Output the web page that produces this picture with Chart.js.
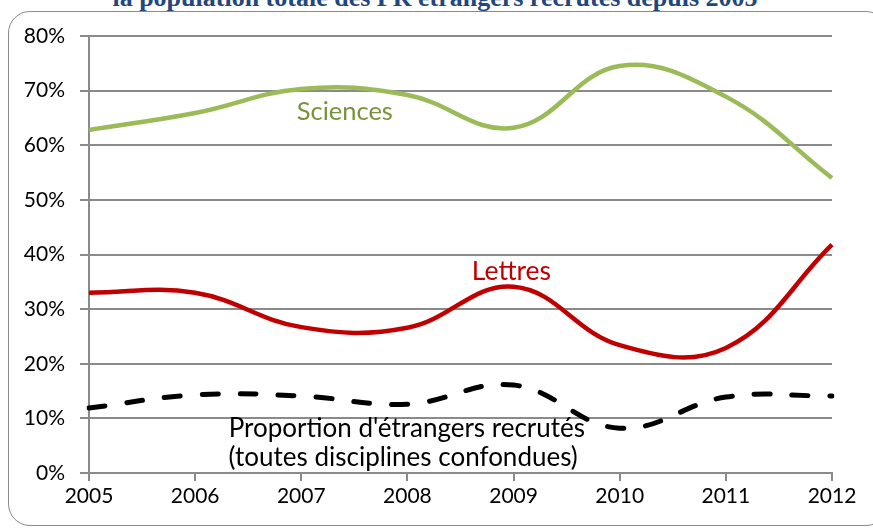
<!DOCTYPE html>
<html>
<head>
<meta charset="utf-8">
<script src="https://cdn.jsdelivr.net/npm/chart.js@4/dist/chart.umd.min.js"></script>
<style>
  html, body { margin: 0; padding: 0; background: #fff; overflow: hidden; }
  #wrap { position: relative; width: 873px; height: 529px; }
  #frame {
    position: absolute; left: 8px; top: 11px; width: 880px; height: 515px;
    border: 1.5px solid #8a8a8a; border-radius: 22px; box-sizing: border-box;
  }
  #title {
    position: absolute; left: 0; width: 870px; top: -17px; text-align: center;
    font: bold 26px "Liberation Serif", "Times New Roman", serif; color: #23477c;
    white-space: nowrap;
  }
  canvas { position: absolute; left: 0; top: 0; }
</style>
</head>
<body>
<div id="wrap">
  <div id="frame"></div>
  <div id="title">la population totale des PR étrangers recrutés depuis 2005</div>
  <canvas id="chart" width="873" height="529"></canvas>
</div>
<script>
const years = ['2005', '2006', '2007', '2008', '2009', '2010', '2011', '2012'];
const sciences = [0.628, 0.659, 0.703, 0.692, 0.632, 0.745, 0.689, 0.540];
const lettres = [0.330, 0.330, 0.267, 0.266, 0.341, 0.234, 0.229, 0.418];
const total = [0.119, 0.143, 0.141, 0.126, 0.161, 0.082, 0.139, 0.141];
const yTicks = [0, 0.1, 0.2, 0.3, 0.4, 0.5, 0.6, 0.7, 0.8];

// text labels placed in data coordinates (x = year index, y = value at baseline)
const notes = [
  { text: 'Sciences', x: 2.41, y: 0.646, size: 25.5, color: '#77933c' },
  { text: 'Lettres', x: 3.98, y: 0.353, size: 26.5, color: '#c00000' },
  { text: "Proportion d'étrangers recrutés", x: 2.995, y: 0.065, size: 26, color: '#000' },
  { text: '(toutes disciplines confondues)', x: 2.96, y: 0.013, size: 26, color: '#000' }
];

const notesPlugin = {
  id: 'notes',
  afterDatasetsDraw(chart) {
    const { ctx, scales } = chart;
    ctx.save();
    ctx.textAlign = 'center';
    ctx.textBaseline = 'alphabetic';
    notes.forEach(n => {
      ctx.font = n.size + 'px Lato';
      ctx.fillStyle = n.color;
      ctx.fillText(n.text, scales.x.getPixelForValue(n.x), scales.y.getPixelForValue(n.y));
    });
    ctx.restore();
  }
};

new Chart(document.getElementById('chart'), {
  type: 'line',
  data: {
    labels: years,
    datasets: [
      { label: 'Sciences', data: sciences, borderColor: '#9bbb59', borderWidth: 4.5, tension: 0.4 },
      { label: 'Lettres', data: lettres, borderColor: '#c00000', borderWidth: 4.5, tension: 0.4 },
      { label: 'Total', data: total, borderColor: '#000', borderWidth: 5, tension: 0.4,
        borderDash: [16, 22], borderCapStyle: 'round' }
    ]
  },
  options: {
    responsive: false,
    animation: false,
    events: [],
    layout: { padding: { top: 36, right: 41, left: 0, bottom: 0 } },
    elements: { point: { radius: 0 } },
    plugins: { legend: { display: false }, tooltip: { enabled: false } },
    scales: {
      x: {
        offset: false,
        afterFit: s => { s.height = 56; },
        grid: { drawOnChartArea: false, color: '#8a8a8a', lineWidth: 2, tickLength: 8 },
        border: { color: '#8a8a8a', width: 2 },
        ticks: { color: '#000', font: { family: 'Lato', size: 21 }, padding: 3, maxRotation: 0 }
      },
      y: {
        min: 0, max: 0.8,
        afterFit: s => { s.width = 89; },
        afterBuildTicks: s => { s.ticks = yTicks.map(v => ({ value: v })); },
        grid: { color: '#8a8a8a', lineWidth: 2, tickLength: 9 },
        border: { color: '#8a8a8a', width: 2 },
        ticks: { color: '#000', font: { family: 'Lato', size: 21 }, padding: 15,
          callback: v => Math.round(v * 100) + '%' }
      }
    }
  },
  plugins: [notesPlugin]
});
</script>
</body>
</html>
